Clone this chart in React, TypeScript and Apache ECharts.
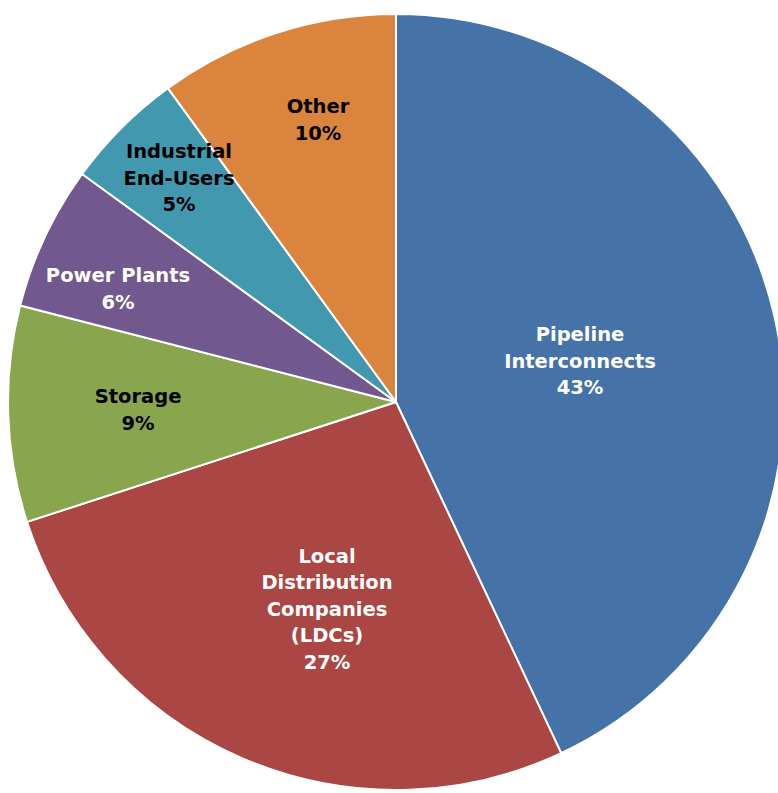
import React, { useEffect, useRef } from "react";
import * as echarts from "echarts";

const categories = [
  "Pipeline\nInterconnects",
  "Local\nDistribution\nCompanies\n(LDCs)",
  "Storage",
  "Power Plants",
  "Industrial\nEnd-Users",
  "Other",
];
const shares = [43, 27, 9, 6, 5, 10];
const colors = ["#4572A7", "#AA4643", "#89A54E", "#71588F", "#4198AF", "#DB843D"];
const labelColors = ["#ffffff", "#ffffff", "#000000", "#ffffff", "#000000", "#000000"];
const labelSpots: [number, number][] = [
  [580, 361],
  [327, 609],
  [138, 410],
  [118, 289],
  [179, 178],
  [318, 120],
];

export default function App() {
  const ref = useRef<HTMLDivElement>(null);
  useEffect(() => {
    if (!ref.current) return;
    const chart = echarts.init(ref.current, undefined, { renderer: "svg" });
    chart.setOption({
      animation: false,
      backgroundColor: "#ffffff",
      series: [
        {
          type: "pie",
          center: [396, 402],
          radius: 388,
          startAngle: 90,
          clockwise: true,
          avoidLabelOverlap: false,
          itemStyle: { borderColor: "#ffffff", borderWidth: 2 },
          label: {
            show: true,
            position: "inside",
            formatter: (p: any) => `${p.name}\n${p.value}%`,
            fontFamily: "DejaVu Sans",
            fontWeight: "bold",
            fontSize: 19.5,
            lineHeight: 26.5,
            align: "center",
            verticalAlign: "middle",
          },
          labelLayout: (params: any) => {
            const s = labelSpots[params.dataIndex];
            return { x: s[0], y: s[1], align: "center", verticalAlign: "middle" };
          },
          emphasis: { disabled: true },
          data: categories.map((name, i) => ({
            name,
            value: shares[i],
            itemStyle: { color: colors[i] },
            label: { color: labelColors[i] },
          })),
        },
      ],
    });
    return () => chart.dispose();
  }, []);
  return (
    <div
      ref={ref}
      style={{ position: "fixed", left: 0, top: 0, width: 778, height: 793 }}
    />
  );
}
